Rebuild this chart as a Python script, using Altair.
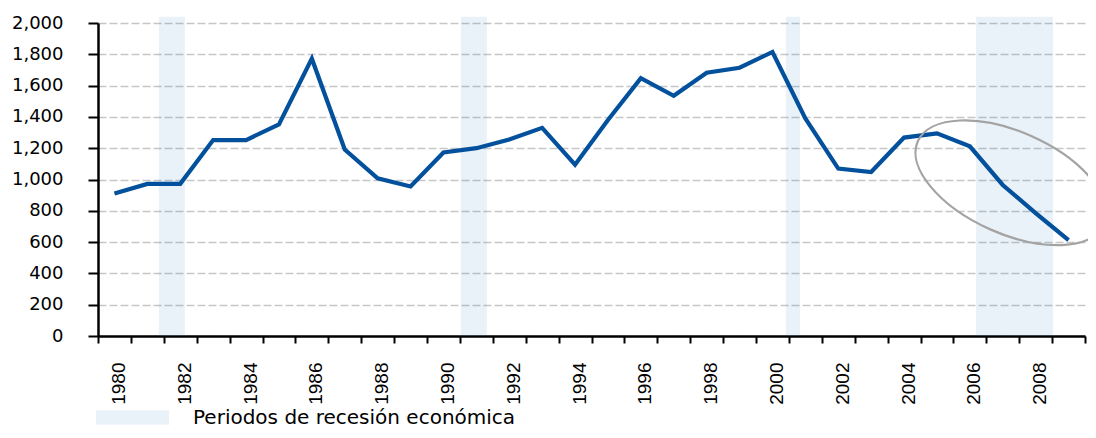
import altair as alt
import pandas as pd

# ---- data ----
years = list(range(1980, 2010))
values = [910, 972, 972, 1252, 1252, 1352, 1772, 1192, 1007, 955,
          1173, 1200, 1256, 1330, 1095, 1380, 1648, 1535, 1682, 1714,
          1815, 1390, 1070, 1048, 1268, 1295, 1212, 965, 785, 612]

recession_start = [1981.35, 1990.53, 2000.41, 2006.19]
recession_end = [1982.14, 1991.32, 2000.84, 2008.53]
recession_label = "Periodos de recesión económica"

label_years = list(range(1980, 2010, 2))
tick_bounds = [y - 0.5 for y in range(1980, 2011)]
y_ticks = list(range(0, 2001, 200))

ellipse_year = [2007.25]
ellipse_value = [979]

line_df = pd.DataFrame({"year": years, "value": values})
band_df = pd.DataFrame({"start": recession_start, "end": recession_end,
                        "label": [recession_label] * len(recession_start)})
ell_df = pd.DataFrame({"year": ellipse_year, "value": ellipse_value})

xscale = alt.Scale(domain=[1979.5, 2009.5], nice=False, zero=False)
yscale = alt.Scale(domain=[0, 2000], nice=False)

y_axis = alt.Axis(values=y_ticks, format=",.0f", title=None,
                  labelFont="DejaVu Sans", labelFontSize=18, labelColor="#000",
                  labelPadding=25, tickSize=10, tickWidth=2, tickColor="#000",
                  domainColor="#000", domainWidth=2.5,
                  grid=True, gridDash=[8, 3], gridColor="#c6c6c6", gridWidth=1.3)

bands = alt.Chart(band_df).mark_rect(opacity=0.1, color="#237dc3").encode(
    x=alt.X("start:Q", scale=xscale,
            axis=alt.Axis(orient="bottom", values=label_years, format="d", title=None,
                          labelAngle=-90, labelFont="Liberation Sans", labelFontSize=19,
                          labelColor="#000", labelPadding=26, labelOffset=4,
                          ticks=False, domain=False, grid=False,
                          labelOverlap=False, labelFlush=False)),
    x2="end:Q",
    y=alt.Y(datum=2040, scale=yscale, axis=y_axis),
    y2=alt.Y2(datum=0),
    color=alt.Color("label:N", scale=alt.Scale(range=["#237dc3"]),
                    legend=alt.Legend(title=None, orient="none", legendX=-2, legendY=358,
                                      symbolType="M-1,-0.2H1V0.2H-1Z", symbolSize=5329,
                                      symbolStrokeWidth=0, symbolOpacity=0.1,
                                      labelFont="DejaVu Sans", labelFontSize=20,
                                      labelColor="#000", labelOffset=24, padding=0,
                                      labelLimit=600)),
)

line = alt.Chart(line_df).mark_line(color="#03509c", strokeWidth=4.2).encode(
    x=alt.X("year:Q", scale=xscale,
            axis=alt.Axis(orient="bottom", values=tick_bounds, labels=False, title=None,
                          ticks=True, tickSize=7, tickWidth=2, tickColor="#000",
                          domain=True, domainColor="#000", domainWidth=2.5, grid=False)),
    y=alt.Y("value:Q", scale=yscale, axis=y_axis),
)

ellipse = alt.Chart(ell_df).mark_point(
    shape="M-1,0A1,0.5,0,1,0,1,0A1,0.5,0,1,0,-1,0Z",
    size=41616, angle=24, filled=False, stroke="#a3a3a3", strokeWidth=2.2, opacity=1,
).encode(
    x=alt.X("year:Q", scale=xscale, axis=None),
    y=alt.Y("value:Q", scale=yscale, axis=y_axis),
)

chart = alt.layer(bands, line, ellipse).resolve_axis(x="independent").properties(
    width=987, height=313,
    autosize=alt.AutoSizeParams(type="none"),
    padding={"left": 90, "top": 15, "right": 3, "bottom": 94},
).configure_view(stroke=None)

chart.save("out.html", embed_options={"renderer": "svg", "actions": False})
